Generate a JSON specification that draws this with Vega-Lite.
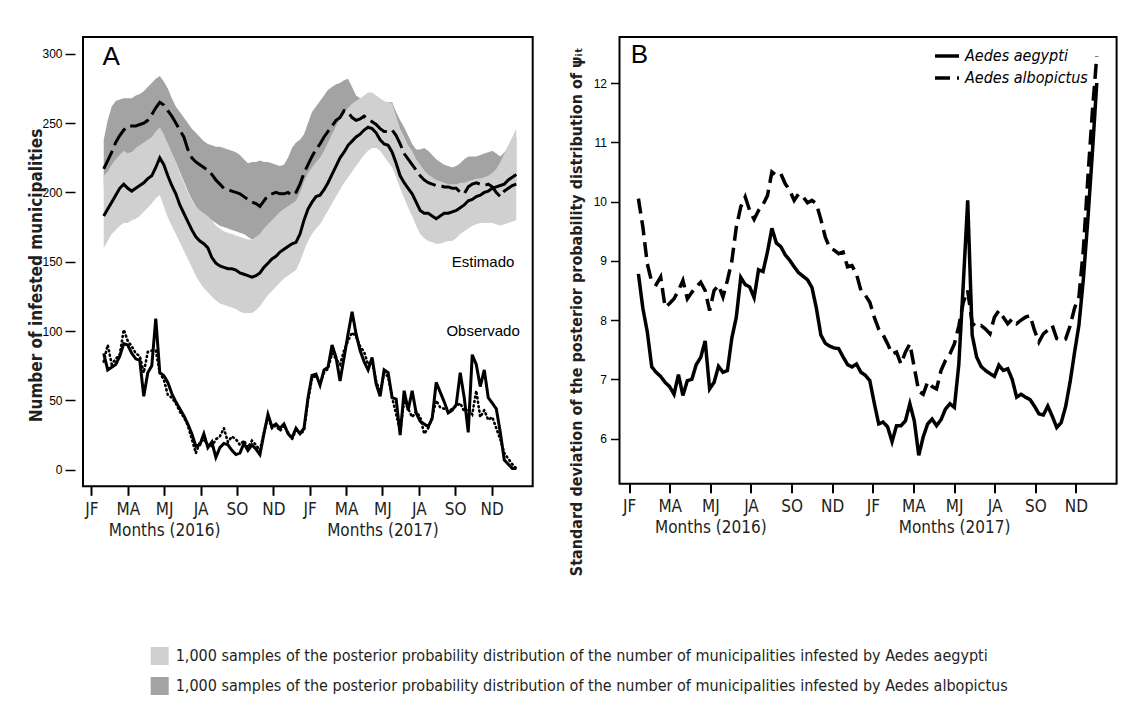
{
"$schema": "https://vega.github.io/schema/vega-lite/v6.json",
"background": "white",
"autosize": {"type": "pad"},
"padding": {"left": 26, "top": 36, "right": 5, "bottom": 5},
"bounds": "flush",
"spacing": 86.5,
"config": {
  "font": "Liberation Sans",
  "view": {"stroke": "black", "strokeWidth": 2},
  "axis": {"grid": false, "domain": false, "tickColor": "black", "tickWidth": 1.5, "labelColor": "black", "titleColor": "black"}
},
"datasets": {
"wk": [
{"w":1,"ea":183,"eb":217,"oa":84,"ob":78,"ll":160,"lh":212,"dl":205,"dh":238,"sa":8.78,"sb":10.05},
{"w":2,"ea":188,"eb":223,"oa":72,"ob":90,"ll":165,"lh":215,"dl":210,"dh":252,"sa":8.2,"sb":9.57},
{"w":3,"ea":193,"eb":229,"oa":74,"ob":76,"ll":170,"lh":220,"dl":215,"dh":262,"sa":7.8,"sb":8.95},
{"w":4,"ea":198,"eb":236,"oa":76,"ob":80,"ll":173,"lh":224,"dl":220,"dh":266,"sa":7.21,"sb":8.64},
{"w":5,"ea":203,"eb":241,"oa":82,"ob":83,"ll":176,"lh":227,"dl":224,"dh":267,"sa":7.12,"sb":8.6},
{"w":6,"ea":206,"eb":245,"oa":91,"ob":101,"ll":178,"lh":230,"dl":226,"dh":268,"sa":7.05,"sb":8.73},
{"w":7,"ea":203,"eb":248,"oa":90,"ob":93,"ll":178,"lh":228,"dl":228,"dh":268,"sa":6.95,"sb":8.22},
{"w":8,"ea":201,"eb":248,"oa":84,"ob":89,"ll":180,"lh":229,"dl":229,"dh":268,"sa":6.88,"sb":8.28},
{"w":9,"ea":203,"eb":248,"oa":80,"ob":84,"ll":181,"lh":232,"dl":230,"dh":270,"sa":6.75,"sb":8.36},
{"w":10,"ea":205,"eb":249,"oa":79,"ob":82,"ll":183,"lh":234,"dl":231,"dh":271,"sa":7.08,"sb":8.5},
{"w":11,"ea":207,"eb":250,"oa":53,"ob":70,"ll":186,"lh":236,"dl":233,"dh":273,"sa":6.73,"sb":8.67},
{"w":12,"ea":210,"eb":252,"oa":70,"ob":85,"ll":189,"lh":238,"dl":235,"dh":276,"sa":6.98,"sb":8.36},
{"w":13,"ea":212,"eb":256,"oa":75,"ob":86,"ll":192,"lh":240,"dl":238,"dh":279,"sa":7.0,"sb":8.47},
{"w":14,"ea":218,"eb":261,"oa":109,"ob":86,"ll":196,"lh":244,"dl":241,"dh":282,"sa":7.25,"sb":8.56},
{"w":15,"ea":225,"eb":265,"oa":70,"ob":70,"ll":198,"lh":247,"dl":243,"dh":284,"sa":7.37,"sb":8.64},
{"w":16,"ea":220,"eb":263,"oa":68,"ob":65,"ll":190,"lh":242,"dl":240,"dh":280,"sa":7.65,"sb":8.5},
{"w":17,"ea":212,"eb":259,"oa":63,"ob":54,"ll":182,"lh":235,"dl":235,"dh":275,"sa":6.84,"sb":8.16},
{"w":18,"ea":205,"eb":255,"oa":55,"ob":52,"ll":176,"lh":228,"dl":228,"dh":268,"sa":6.95,"sb":8.5},
{"w":19,"ea":199,"eb":250,"oa":49,"ob":48,"ll":170,"lh":222,"dl":222,"dh":262,"sa":7.22,"sb":8.59},
{"w":20,"ea":191,"eb":245,"oa":44,"ob":42,"ll":164,"lh":214,"dl":215,"dh":258,"sa":7.12,"sb":8.39},
{"w":21,"ea":185,"eb":240,"oa":39,"ob":38,"ll":158,"lh":207,"dl":208,"dh":254,"sa":7.15,"sb":8.67},
{"w":22,"ea":179,"eb":231,"oa":33,"ob":32,"ll":152,"lh":200,"dl":201,"dh":250,"sa":7.7,"sb":9.0},
{"w":23,"ea":173,"eb":225,"oa":26,"ob":22,"ll":146,"lh":194,"dl":195,"dh":246,"sa":8.05,"sb":9.57},
{"w":24,"ea":168,"eb":222,"oa":17,"ob":12,"ll":140,"lh":190,"dl":190,"dh":243,"sa":8.72,"sb":9.91},
{"w":25,"ea":165,"eb":220,"oa":18,"ob":20,"ll":135,"lh":187,"dl":186,"dh":240,"sa":8.6,"sb":10.08},
{"w":26,"ea":163,"eb":218,"oa":26,"ob":22,"ll":131,"lh":185,"dl":184,"dh":237,"sa":8.56,"sb":9.85},
{"w":27,"ea":160,"eb":216,"oa":16,"ob":18,"ll":128,"lh":183,"dl":182,"dh":235,"sa":8.38,"sb":9.7},
{"w":28,"ea":153,"eb":213,"oa":20,"ob":17,"ll":125,"lh":180,"dl":180,"dh":234,"sa":8.85,"sb":9.85},
{"w":29,"ea":149,"eb":209,"oa":9,"ob":22,"ll":122,"lh":176,"dl":178,"dh":233,"sa":8.82,"sb":9.95},
{"w":30,"ea":147,"eb":206,"oa":16,"ob":24,"ll":120,"lh":174,"dl":176,"dh":233,"sa":9.15,"sb":10.1},
{"w":31,"ea":146,"eb":203,"oa":19,"ob":30,"ll":119,"lh":172,"dl":175,"dh":232,"sa":9.55,"sb":10.5},
{"w":32,"ea":145,"eb":202,"oa":18,"ob":20,"ll":118,"lh":171,"dl":174,"dh":231,"sa":9.3,"sb":10.44},
{"w":33,"ea":145,"eb":201,"oa":14,"ob":24,"ll":117,"lh":170,"dl":173,"dh":230,"sa":9.24,"sb":10.47},
{"w":34,"ea":144,"eb":200,"oa":11,"ob":22,"ll":116,"lh":169,"dl":172,"dh":229,"sa":9.1,"sb":10.3},
{"w":35,"ea":142,"eb":199,"oa":12,"ob":18,"ll":114,"lh":168,"dl":171,"dh":227,"sa":9.01,"sb":10.19},
{"w":36,"ea":141,"eb":197,"oa":19,"ob":21,"ll":113,"lh":167,"dl":170,"dh":224,"sa":8.9,"sb":10.02},
{"w":37,"ea":140,"eb":195,"oa":14,"ob":16,"ll":113,"lh":166,"dl":168,"dh":221,"sa":8.8,"sb":10.13},
{"w":38,"ea":139,"eb":193,"oa":18,"ob":21,"ll":113,"lh":166,"dl":166,"dh":222,"sa":8.74,"sb":10.08},
{"w":39,"ea":140,"eb":192,"oa":15,"ob":18,"ll":115,"lh":168,"dl":167,"dh":222,"sa":8.68,"sb":9.98},
{"w":40,"ea":142,"eb":190,"oa":11,"ob":14,"ll":118,"lh":170,"dl":168,"dh":223,"sa":8.55,"sb":10.02},
{"w":41,"ea":146,"eb":194,"oa":26,"ob":27,"ll":122,"lh":174,"dl":171,"dh":222,"sa":8.2,"sb":9.96},
{"w":42,"ea":149,"eb":198,"oa":40,"ob":38,"ll":126,"lh":177,"dl":174,"dh":222,"sa":7.75,"sb":9.7},
{"w":43,"ea":152,"eb":199,"oa":31,"ob":30,"ll":129,"lh":180,"dl":176,"dh":221,"sa":7.61,"sb":9.4},
{"w":44,"ea":154,"eb":200,"oa":33,"ob":32,"ll":132,"lh":183,"dl":176,"dh":220,"sa":7.56,"sb":9.22},
{"w":45,"ea":157,"eb":199,"oa":30,"ob":28,"ll":135,"lh":186,"dl":176,"dh":219,"sa":7.53,"sb":9.18},
{"w":46,"ea":159,"eb":199,"oa":33,"ob":32,"ll":138,"lh":188,"dl":177,"dh":220,"sa":7.52,"sb":9.12},
{"w":47,"ea":161,"eb":200,"oa":26,"ob":27,"ll":140,"lh":190,"dl":178,"dh":225,"sa":7.38,"sb":9.15},
{"w":48,"ea":163,"eb":198,"oa":23,"ob":22,"ll":142,"lh":192,"dl":179,"dh":232,"sa":7.25,"sb":8.9},
{"w":49,"ea":164,"eb":200,"oa":30,"ob":29,"ll":144,"lh":194,"dl":180,"dh":236,"sa":7.21,"sb":8.92},
{"w":50,"ea":170,"eb":206,"oa":26,"ob":26,"ll":150,"lh":200,"dl":188,"dh":238,"sa":7.26,"sb":8.78},
{"w":51,"ea":180,"eb":214,"oa":30,"ob":28,"ll":158,"lh":208,"dl":196,"dh":242,"sa":7.12,"sb":8.5},
{"w":52,"ea":188,"eb":220,"oa":52,"ob":50,"ll":165,"lh":214,"dl":201,"dh":250,"sa":7.07,"sb":8.42},
{"w":53,"ea":193,"eb":226,"oa":68,"ob":66,"ll":170,"lh":218,"dl":205,"dh":258,"sa":6.98,"sb":8.3},
{"w":54,"ea":197,"eb":231,"oa":69,"ob":68,"ll":174,"lh":222,"dl":210,"dh":262,"sa":6.6,"sb":8.05},
{"w":55,"ea":198,"eb":235,"oa":61,"ob":62,"ll":177,"lh":225,"dl":216,"dh":266,"sa":6.25,"sb":7.85},
{"w":56,"ea":202,"eb":240,"oa":72,"ob":70,"ll":182,"lh":230,"dl":222,"dh":270,"sa":6.28,"sb":7.75},
{"w":57,"ea":207,"eb":244,"oa":74,"ob":73,"ll":187,"lh":236,"dl":228,"dh":274,"sa":6.2,"sb":7.6},
{"w":58,"ea":213,"eb":248,"oa":90,"ob":84,"ll":192,"lh":242,"dl":233,"dh":276,"sa":5.95,"sb":7.43},
{"w":59,"ea":219,"eb":252,"oa":81,"ob":80,"ll":197,"lh":248,"dl":237,"dh":278,"sa":6.22,"sb":7.46},
{"w":60,"ea":225,"eb":254,"oa":64,"ob":76,"ll":202,"lh":253,"dl":240,"dh":279,"sa":6.22,"sb":7.26},
{"w":61,"ea":229,"eb":259,"oa":81,"ob":86,"ll":207,"lh":257,"dl":242,"dh":281,"sa":6.3,"sb":7.46},
{"w":62,"ea":234,"eb":258,"oa":98,"ob":93,"ll":211,"lh":261,"dl":243,"dh":282,"sa":6.59,"sb":7.6},
{"w":63,"ea":237,"eb":254,"oa":114,"ob":99,"ll":215,"lh":264,"dl":243,"dh":276,"sa":6.3,"sb":7.2},
{"w":64,"ea":240,"eb":252,"oa":98,"ob":96,"ll":219,"lh":266,"dl":243,"dh":270,"sa":5.72,"sb":6.8},
{"w":65,"ea":242,"eb":253,"oa":86,"ob":89,"ll":223,"lh":268,"dl":243,"dh":268,"sa":6.03,"sb":6.75},
{"w":66,"ea":245,"eb":255,"oa":78,"ob":85,"ll":227,"lh":270,"dl":243,"dh":267,"sa":6.25,"sb":6.96},
{"w":67,"ea":247,"eb":253,"oa":72,"ob":76,"ll":230,"lh":272,"dl":242,"dh":266,"sa":6.33,"sb":6.88},
{"w":68,"ea":246,"eb":251,"oa":81,"ob":78,"ll":232,"lh":272,"dl":241,"dh":265,"sa":6.22,"sb":6.84},
{"w":69,"ea":243,"eb":249,"oa":62,"ob":64,"ll":232,"lh":270,"dl":240,"dh":264,"sa":6.32,"sb":7.15},
{"w":70,"ea":238,"eb":246,"oa":53,"ob":56,"ll":230,"lh":268,"dl":237,"dh":264,"sa":6.5,"sb":7.32},
{"w":71,"ea":235,"eb":244,"oa":72,"ob":70,"ll":226,"lh":266,"dl":234,"dh":265,"sa":6.59,"sb":7.43},
{"w":72,"ea":234,"eb":244,"oa":70,"ob":67,"ll":222,"lh":265,"dl":232,"dh":265,"sa":6.53,"sb":7.6},
{"w":73,"ea":229,"eb":245,"oa":52,"ob":52,"ll":218,"lh":264,"dl":230,"dh":265,"sa":7.25,"sb":7.9},
{"w":74,"ea":221,"eb":241,"oa":51,"ob":40,"ll":211,"lh":255,"dl":225,"dh":258,"sa":8.6,"sb":8.3},
{"w":75,"ea":212,"eb":235,"oa":25,"ob":28,"ll":203,"lh":246,"dl":219,"dh":252,"sa":10.02,"sb":8.5},
{"w":76,"ea":207,"eb":228,"oa":57,"ob":50,"ll":196,"lh":240,"dl":214,"dh":247,"sa":7.75,"sb":7.95},
{"w":77,"ea":203,"eb":224,"oa":43,"ob":44,"ll":189,"lh":234,"dl":210,"dh":241,"sa":7.38,"sb":7.88},
{"w":78,"ea":199,"eb":220,"oa":57,"ob":38,"ll":183,"lh":230,"dl":207,"dh":235,"sa":7.22,"sb":7.91},
{"w":79,"ea":193,"eb":216,"oa":41,"ob":42,"ll":176,"lh":224,"dl":205,"dh":231,"sa":7.15,"sb":7.85},
{"w":80,"ea":187,"eb":212,"oa":35,"ob":38,"ll":170,"lh":220,"dl":204,"dh":231,"sa":7.1,"sb":7.77},
{"w":81,"ea":185,"eb":209,"oa":33,"ob":26,"ll":167,"lh":216,"dl":203,"dh":232,"sa":7.05,"sb":8.05},
{"w":82,"ea":185,"eb":207,"oa":31,"ob":30,"ll":165,"lh":213,"dl":203,"dh":230,"sa":7.24,"sb":8.16},
{"w":83,"ea":183,"eb":206,"oa":37,"ob":38,"ll":164,"lh":211,"dl":202,"dh":227,"sa":7.15,"sb":8.05},
{"w":84,"ea":181,"eb":205,"oa":63,"ob":50,"ll":163,"lh":209,"dl":201,"dh":224,"sa":7.18,"sb":7.94},
{"w":85,"ea":183,"eb":205,"oa":56,"ob":45,"ll":163,"lh":208,"dl":200,"dh":222,"sa":7.0,"sb":8.02},
{"w":86,"ea":185,"eb":204,"oa":49,"ob":44,"ll":164,"lh":207,"dl":199,"dh":220,"sa":6.7,"sb":7.94},
{"w":87,"ea":185,"eb":204,"oa":41,"ob":42,"ll":165,"lh":206,"dl":198,"dh":219,"sa":6.75,"sb":8.0},
{"w":88,"ea":186,"eb":203,"oa":43,"ob":44,"ll":165,"lh":206,"dl":198,"dh":218,"sa":6.7,"sb":8.05},
{"w":89,"ea":187,"eb":203,"oa":47,"ob":46,"ll":167,"lh":206,"dl":197,"dh":219,"sa":6.66,"sb":8.08},
{"w":90,"ea":189,"eb":200,"oa":70,"ob":48,"ll":170,"lh":207,"dl":197,"dh":221,"sa":6.55,"sb":7.83},
{"w":91,"ea":191,"eb":199,"oa":52,"ob":42,"ll":172,"lh":207,"dl":197,"dh":224,"sa":6.42,"sb":7.63},
{"w":92,"ea":194,"eb":204,"oa":27,"ob":44,"ll":174,"lh":208,"dl":198,"dh":226,"sa":6.4,"sb":7.77},
{"w":93,"ea":195,"eb":206,"oa":83,"ob":40,"ll":176,"lh":209,"dl":199,"dh":226,"sa":6.55,"sb":7.83},
{"w":94,"ea":197,"eb":207,"oa":76,"ob":57,"ll":177,"lh":210,"dl":200,"dh":226,"sa":6.38,"sb":7.91},
{"w":95,"ea":198,"eb":206,"oa":60,"ob":38,"ll":178,"lh":210,"dl":200,"dh":227,"sa":6.19,"sb":7.69},
{"w":96,"ea":200,"eb":205,"oa":72,"ob":43,"ll":178,"lh":211,"dl":201,"dh":228,"sa":6.27,"sb":7.66},
{"w":97,"ea":201,"eb":206,"oa":52,"ob":36,"ll":178,"lh":212,"dl":201,"dh":229,"sa":6.54,"sb":7.68},
{"w":98,"ea":203,"eb":204,"oa":48,"ob":38,"ll":178,"lh":214,"dl":201,"dh":230,"sa":6.95,"sb":7.9},
{"w":99,"ea":204,"eb":200,"oa":44,"ob":30,"ll":177,"lh":217,"dl":201,"dh":228,"sa":7.45,"sb":8.2},
{"w":100,"ea":205,"eb":197,"oa":27,"ob":22,"ll":176,"lh":222,"dl":200,"dh":226,"sa":7.92,"sb":8.4},
{"w":101,"ea":206,"eb":201,"oa":7,"ob":12,"ll":177,"lh":228,"dl":201,"dh":229,"sa":8.7,"sb":9.2},
{"w":102,"ea":209,"eb":203,"oa":4,"ob":8,"ll":178,"lh":234,"dl":202,"dh":232,"sa":9.7,"sb":10.4},
{"w":103,"ea":211,"eb":205,"oa":1,"ob":4,"ll":179,"lh":240,"dl":204,"dh":236,"sa":10.8,"sb":11.5},
{"w":104,"ea":213,"eb":206,"oa":1,"ob":1,"ll":180,"lh":246,"dl":206,"dh":240,"sa":12.0,"sb":12.45}
]
},
"hconcat": [
{
  "width": 449.7,
  "height": 449.3,
  "data": {"name": "wk"},
  "layer": [
    {
      "mark": {"type": "area"},
      "encoding": {
        "x": {"field": "w", "type": "quantitative",
          "scale": {"domain": [-4.17, 108.09], "nice": false, "zero": false},
          "axis": {
            "values": [-2.07, 2.471, 7.012, 11.553, 16.094, 20.635, 25.176, 29.717, 34.258, 38.799, 43.34, 47.881, 52.422, 56.963, 61.504, 66.045, 70.586, 75.127, 79.668, 84.209, 88.75, 93.291, 97.832, 102.373],
            "labelExpr": "round((datum.value+2.07)/4.541) == 4 ? ['MJ','Months (2016)'] : round((datum.value+2.07)/4.541) == 16 ? ['MJ','Months (2017)'] : ['JF','','MA','','MJ','','JA','','SO','','ND',''][round((datum.value+2.07)/4.541) % 12]",
            "title": null, "tickSize": 9, "tickWidth": 2, "labelPadding": 6,
            "labelFont": "DejaVu Sans Condensed, Liberation Sans", "labelFontSize": 17, "labelLineHeight": 21,
            "labelBaseline": "top", "labelColor": "#231f20",
            "labelOverlap": false, "labelFlush": false, "labelBound": false
          }},
        "y": {"field": "dl", "type": "quantitative",
          "scale": {"domain": [-11.9, 312.1], "nice": false, "zero": false},
          "axis": {
            "values": [0, 50, 100, 150, 200, 250, 300],
            "offset": 8,
            "labelFont": "Liberation Sans", "labelFontSize": 12, "tickSize": 10, "labelPadding": 3,
            "title": "Number of infested municipalities",
            "titleFont": "DejaVu Sans Condensed, Liberation Sans", "titleFontSize": 17, "titleFontWeight": "bold",
            "titleX": -33.8, "titleY": 238, "titleAngle": 270, "titleBaseline": "alphabetic", "titleAlign": "center", "titleColor": "#231f20"
          }},
        "y2": {"field": "dh"},
        "fill": {"datum": "1,000 samples of the posterior probability distribution of the number of municipalities infested by Aedes albopictus",
          "type": "nominal",
          "scale": {"domain": ["1,000 samples of the posterior probability distribution of the number of municipalities infested by Aedes aegypti", "1,000 samples of the posterior probability distribution of the number of municipalities infested by Aedes albopictus"],
                    "range": ["#d0d0d0", "#a3a3a3"]},
          "legend": {"orient": "none", "legendX": 67.7, "legendY": 610, "direction": "vertical", "title": null,
            "symbolType": "square", "symbolSize": 324, "symbolStrokeWidth": 0, "padding": 0,
            "labelFont": "DejaVu Sans Condensed, Liberation Sans", "labelFontSize": 16, "labelLimit": 2000, "labelColor": "#231f20",
            "labelOffset": 7, "rowPadding": 12}
        }
      }
    },
    {
      "mark": {"type": "area"},
      "encoding": {
        "x": {"field": "w", "type": "quantitative"},
        "y": {"field": "ll", "type": "quantitative"},
        "y2": {"field": "lh"},
        "fill": {"datum": "1,000 samples of the posterior probability distribution of the number of municipalities infested by Aedes aegypti", "type": "nominal"}
      }
    },
    {
      "mark": {"type": "line", "color": "black", "strokeWidth": 3, "strokeDash": [20, 6]},
      "encoding": {"x": {"field": "w", "type": "quantitative"}, "y": {"field": "eb", "type": "quantitative"}}
    },
    {
      "mark": {"type": "line", "color": "black", "strokeWidth": 3},
      "encoding": {"x": {"field": "w", "type": "quantitative"}, "y": {"field": "ea", "type": "quantitative"}}
    },
    {
      "mark": {"type": "line", "color": "black", "strokeWidth": 2.6, "strokeDash": [1, 3.5], "strokeCap": "round"},
      "encoding": {"x": {"field": "w", "type": "quantitative"}, "y": {"field": "ob", "type": "quantitative"}}
    },
    {
      "mark": {"type": "line", "color": "black", "strokeWidth": 3},
      "encoding": {"x": {"field": "w", "type": "quantitative"}, "y": {"field": "oa", "type": "quantitative"}}
    },
    {
      "data": {"values": [{"t": "A"}]},
      "mark": {"type": "text", "font": "Liberation Sans", "fontSize": 26, "align": "left", "baseline": "alphabetic", "color": "black"},
      "encoding": {"x": {"datum": 0.7, "type": "quantitative"}, "y": {"datum": 291.7, "type": "quantitative"}, "text": {"field": "t"}}
    },
    {
      "data": {"values": [{"t": "Estimado", "x": 95.7, "y": 146.2}, {"t": "Observado", "x": 95.7, "y": 96.3}]},
      "mark": {"type": "text", "font": "Liberation Sans", "fontSize": 15, "align": "center", "baseline": "alphabetic", "color": "black"},
      "encoding": {"x": {"field": "x", "type": "quantitative"}, "y": {"field": "y", "type": "quantitative"}, "text": {"field": "t"}}
    }
  ]
},
{
  "width": 497.1,
  "height": 446.7,
  "data": {"name": "wk"},
  "layer": [
    {
      "transform": [{"fold": ["sa", "sb"], "as": ["sp", "sd"]}],
      "mark": {"type": "line", "color": "black", "strokeWidth": 3.5},
      "encoding": {
        "x": {"field": "w", "type": "quantitative",
          "scale": {"domain": [-3.25, 108.46], "nice": false, "zero": false},
          "axis": {
            "values": [-1.09, 3.474, 8.038, 12.602, 17.166, 21.73, 26.294, 30.858, 35.422, 39.986, 44.55, 49.114, 53.678, 58.242, 62.806, 67.37, 71.934, 76.498, 81.062, 85.626, 90.19, 94.754, 99.318, 103.882],
            "labelExpr": "round((datum.value+1.09)/4.564) == 4 ? ['MJ','Months (2016)'] : round((datum.value+1.09)/4.564) == 16 ? ['MJ','Months (2017)'] : ['JF','','MA','','MJ','','JA','','SO','','ND',''][round((datum.value+1.09)/4.564) % 12]",
            "title": null, "tickSize": 9, "tickWidth": 2, "labelPadding": 6,
            "labelFont": "DejaVu Sans Condensed, Liberation Sans", "labelFontSize": 17, "labelLineHeight": 21,
            "labelBaseline": "top", "labelColor": "#231f20",
            "labelOverlap": false, "labelFlush": false, "labelBound": false
          }},
        "y": {"field": "sd", "type": "quantitative",
          "scale": {"domain": [5.241, 12.776], "nice": false, "zero": false},
          "axis": {
            "values": [6, 7, 8, 9, 10, 11, 12],
            "format": "d",
            "labelFont": "Liberation Sans", "labelFontSize": 12, "tickSize": 9, "labelPadding": 4,
            "title": "Standard deviation of the posterior probability distribution of ψᵢₜ",
            "titleFont": "DejaVu Sans Condensed, Liberation Sans", "titleFontSize": 16, "titleFontWeight": "bold",
            "titleX": -37.6, "titleY": 274.5, "titleAngle": 270, "titleBaseline": "alphabetic", "titleAlign": "center", "titleColor": "#231f20"
          }},
        "strokeDash": {"field": "sp", "type": "nominal",
          "scale": {"domain": ["sa", "sb"], "range": [[1, 0], [15, 7]]},
          "legend": {"orient": "none", "legendX": 850, "legendY": 5, "title": null, "padding": 0,
            "symbolType": "stroke", "symbolSize": 576, "symbolStrokeWidth": 3.5, "symbolStrokeColor": "black",
            "labelFont": "DejaVu Sans Condensed, Liberation Sans", "labelFontStyle": "italic", "labelFontSize": 16, "labelColor": "black",
            "labelOffset": 4, "rowPadding": -3,
            "labelExpr": "datum.label == 'sa' ? 'Aedes aegypti' : 'Aedes albopictus'"}
        }
      }
    },
    {
      "data": {"values": [{"t": "B"}]},
      "mark": {"type": "text", "font": "Liberation Sans", "fontSize": 26, "align": "left", "baseline": "alphabetic", "color": "black"},
      "encoding": {"x": {"datum": -0.73, "type": "quantitative"}, "y": {"datum": 12.34, "type": "quantitative"}, "text": {"field": "t"}}
    }
  ]
}
]
}
